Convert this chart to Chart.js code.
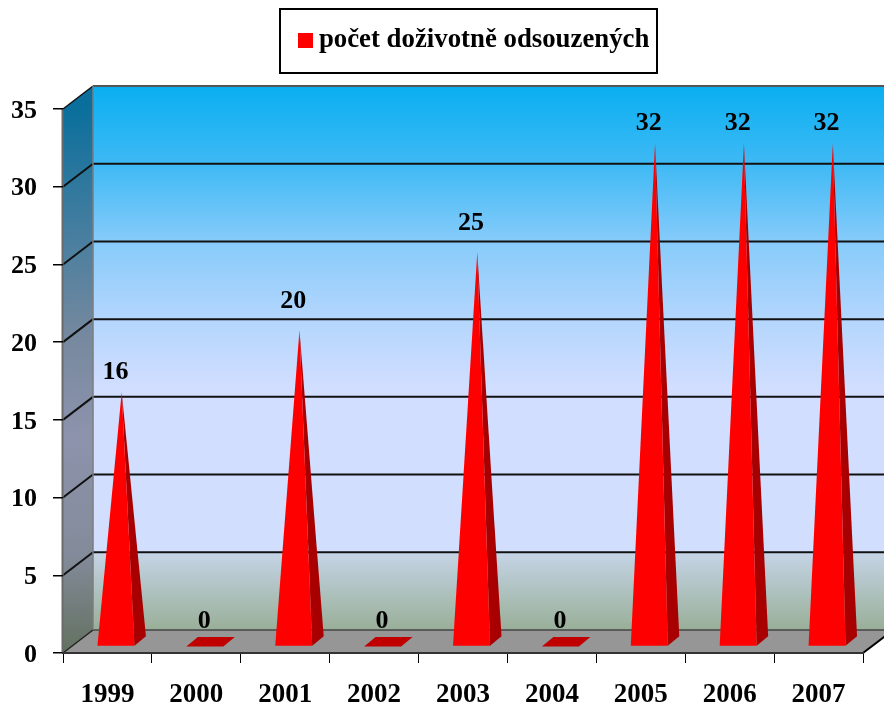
<!DOCTYPE html>
<html><head><meta charset="utf-8">
<style>html,body{margin:0;padding:0;background:#fff}canvas{display:block}</style>
<script src="https://cdn.jsdelivr.net/npm/chart.js@4"></script>
</head><body><canvas id="c" width="884" height="706"></canvas>
<script>
const categories = ['1999','2000','2001','2002','2003','2004','2005','2006','2007'];
const seriesName = 'počet doživotně odsouzených';
const seriesValues = [16,0,20,0,25,0,32,32,32];
const labelLift = [32.5,32,40.5,32,41,32,32,32,32];

const SERIF = '"Liberation Serif","Times New Roman",serif';
const DEPTH_X = 30, DEPTH_Y = -23;

function poly(ctx, pts, fill){
  ctx.beginPath();
  pts.forEach((p,i)=> i?ctx.lineTo(p[0],p[1]):ctx.moveTo(p[0],p[1]));
  ctx.closePath();
  ctx.fillStyle = fill; ctx.fill();
}
function line(ctx,x1,y1,x2,y2,color,w){
  ctx.beginPath();ctx.moveTo(x1,y1);ctx.lineTo(x2,y2);ctx.strokeStyle=color;ctx.lineWidth=w;ctx.stroke();
}

const scene = {
  id:'scene',
  afterLayout(chart){
    const lg = chart.legend, pad = lg.options.labels.padding;
    const h = lg.bottom - lg.top;
    lg.left = 305.5 - pad; lg.right = 700; lg.top = 7; lg.bottom = 7 + h;
  },
  beforeDraw(chart){
    const ctx = chart.ctx, {left,right,top,bottom} = chart.chartArea, y = chart.scales.y;
    y.getLabelItems().forEach(item=>{
      if(!item.options.nudged){
        item.options.nudged = true;
        item.options.translation = [item.options.translation[0], item.options.translation[1]+2];
      }
    });
    ctx.save();
    const wx = left+DEPTH_X, bt = top+DEPTH_Y, bb = bottom+DEPTH_Y;
    // back wall
    let g = ctx.createLinearGradient(0,bt,0,bb);
    [[0,'#0AAFF1'],[.14,'#3DB9F5'],[.285,'#86CBFA'],[.43,'#B4D6FD'],[.56,'#D2DEFF'],[.855,'#D2DEFE'],[.862,'#C3D3E4'],[1,'#99AF98']]
      .forEach(s=>g.addColorStop(s[0],s[1]));
    ctx.fillStyle = g; ctx.fillRect(wx,bt,chart.width-wx,bb-bt);
    // side wall
    g = ctx.createLinearGradient(left,top,wx,bottom);
    [[0,'#0A6F9C'],[.2,'#3F7C9F'],[.42,'#76899F'],[.6,'#8D93AC'],[.82,'#838B9A'],[1,'#62705F']]
      .forEach(s=>g.addColorStop(s[0],s[1]));
    poly(ctx,[[left,top],[wx,bt],[wx,bb],[left,bottom]],g);
    // floor
    poly(ctx,[[left,bottom],[wx,bb],[right+DEPTH_X,bb],[right,bottom]],'#969696');
    // grid lines
    y.ticks.forEach(t=>{
      const py = y.getPixelForValue(t.value);
      if(t.value>0 && t.value<35){
        line(ctx,wx,py+DEPTH_Y,chart.width,py+DEPTH_Y,'#111',2);
      }
      if(t.value>0) line(ctx,left,py,wx,py+DEPTH_Y,'#111',t.value<35?2:1.5);
    });
    line(ctx,wx,bt,chart.width,bt,'#555',2);
    line(ctx,wx,bb,chart.width,bb,'#444',1.5);
    line(ctx,wx,bt,wx,bb,'#7d7d7d',1.5);
    line(ctx,left-.5,top,left-.5,bottom,'#6a6a6a',2);
    line(ctx,left,bottom,wx,bb,'#222',1.5);
    line(ctx,right,bottom,right+DEPTH_X,bb,'#000',2);
    ctx.restore();
  },
  afterDatasetsDraw(chart){
    const ctx = chart.ctx, bars = chart.getDatasetMeta(0).data;
    ctx.save();
    bars.forEach((bar,i)=>{
      const cx = bar.x+8.5, fy = bar.base-6.5, hw = 18.5, bdx = 11.5, bdy = -9.5;
      if(seriesValues[i]===0){
        poly(ctx,[[cx-hw,fy],[cx+hw,fy],[cx+hw+bdx,fy+bdy],[cx-hw+bdx,fy+bdy]],'#C00000');
      }else{
        const apex = [cx+bdx/2, bar.y-12];
        poly(ctx,[[cx+hw,fy],[cx+hw+bdx,fy+bdy],apex],'#A80000');
        poly(ctx,[[cx-hw,fy],[cx+hw,fy],apex],'#FF0000');
      }
      ctx.fillStyle='#000';
      ctx.font='bold 26px '+SERIF;
      ctx.textAlign='center';ctx.textBaseline='middle';
      ctx.fillText(String(seriesValues[i]),bar.x+8,bar.y-labelLift[i]);
    });
    // legend frame
    ctx.strokeStyle='#000';ctx.lineWidth=2;
    ctx.strokeRect(280,9,377,64);
    ctx.restore();
  }
};

new Chart(document.getElementById('c'),{
  type:'bar',
  data:{labels:categories,datasets:[{label:seriesName,data:seriesValues,backgroundColor:'rgba(255,0,0,0)',borderWidth:0}]},
  options:{
    responsive:false,animation:false,
    layout:{padding:{top:52.2,right:21,left:0,bottom:0}},
    plugins:{
      tooltip:{enabled:false},
      legend:{
        position:'top',align:'start',
        labels:{
          usePointStyle:true,pointStyle:'rect',boxWidth:0.01,boxHeight:15,padding:20,color:'#000',
          font:{family:SERIF,size:26.8,weight:'bold'},
          generateLabels(c){
            return Chart.defaults.plugins.legend.labels.generateLabels(c).map(l=>Object.assign(l,{fillStyle:'#FF0000',strokeStyle:'#FF0000',lineWidth:0}));
          }
        }
      }
    },
    scales:{
      x:{
        afterFit(s){s.height=53;},
        grid:{drawOnChartArea:false,drawTicks:true,tickLength:10,color:'#000',lineWidth:1},
        border:{color:'#333',width:2},
        ticks:{color:'#000',padding:16,maxRotation:0,autoSkip:false,font:{family:SERIF,size:27,weight:'bold'}}
      },
      y:{
        min:0,max:35,
        afterFit(s){s.width=63;},
        grid:{drawOnChartArea:false,drawTicks:true,tickLength:10,color:'#000',lineWidth:1.5},
        border:{display:false},
        ticks:{color:'#000',stepSize:5,padding:16,font:{family:SERIF,size:26,weight:'bold'}}
      }
    }
  },
  plugins:[scene]
});
</script></body></html>
